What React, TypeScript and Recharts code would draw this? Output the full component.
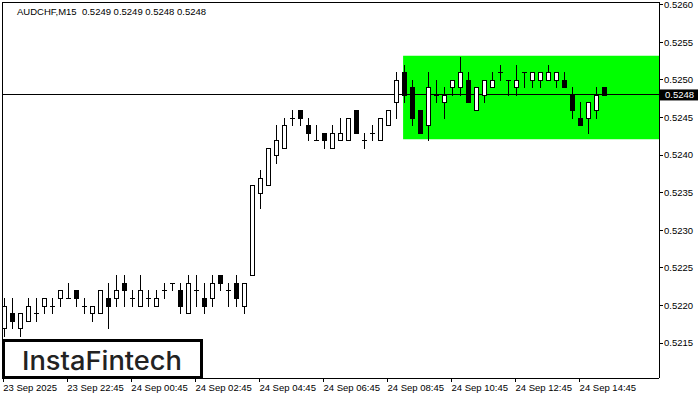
import React from 'react';
import { ComposedChart, Bar, XAxis, YAxis, ReferenceLine, ReferenceArea } from 'recharts';

const opens = [
  0.5217, 0.5219, 0.5217, 0.5218, 0.5219, 0.5220, 0.5220, 0.5221, 0.5221, 0.5222,
  0.5220, 0.5219, 0.5219, 0.5221, 0.5221, 0.5223, 0.5221, 0.5220, 0.5221, 0.5220,
  0.5222, 0.5223, 0.5222, 0.5219, 0.5222, 0.5221, 0.5221, 0.5224, 0.5222, 0.5223,
  0.5220, 0.5224, 0.5235, 0.5236, 0.5240, 0.5241, 0.5245, 0.5246, 0.5244, 0.5242,
  0.5243, 0.5241, 0.5242, 0.5242, 0.5246, 0.5242, 0.5243, 0.5242, 0.5244, 0.5247,
  0.5251, 0.5249, 0.5246, 0.5244, 0.5248, 0.5247, 0.5249, 0.5249, 0.5250, 0.5246,
  0.5248, 0.5249, 0.5251, 0.5250, 0.5249, 0.5251, 0.5250, 0.5250, 0.5250, 0.5250,
  0.5250, 0.5248, 0.5245, 0.5245, 0.5246, 0.5249,
];
const closes = [
  0.5220, 0.5218, 0.5219, 0.5220, 0.5219, 0.5221, 0.5220, 0.5222, 0.5221, 0.5221,
  0.5220, 0.5220, 0.5222, 0.5220, 0.5222, 0.5222, 0.5221, 0.5222, 0.5221, 0.5221,
  0.5222, 0.5223, 0.5220, 0.5223, 0.5222, 0.5220, 0.5223, 0.5223, 0.5222, 0.5221,
  0.5223, 0.5236, 0.5237, 0.5241, 0.5242, 0.5244, 0.5245, 0.5245, 0.5243, 0.5242,
  0.5242, 0.5243, 0.5243, 0.5245, 0.5243, 0.5242, 0.5243, 0.5245, 0.5246, 0.5250,
  0.5248, 0.5245, 0.5243, 0.5249, 0.5248, 0.5248, 0.5250, 0.5251, 0.5247, 0.5249,
  0.5250, 0.5250, 0.5251, 0.5250, 0.5250, 0.5251, 0.5251, 0.5251, 0.5251, 0.5251,
  0.5249, 0.5246, 0.5244, 0.5247, 0.5248, 0.5248,
];
const highs = [
  0.5221, 0.5221, 0.5219, 0.5221, 0.5221, 0.5221, 0.5221, 0.5222, 0.5223, 0.5222,
  0.5221, 0.5220, 0.5222, 0.5223, 0.5224, 0.5224, 0.5222, 0.5224, 0.5222, 0.5222,
  0.5223, 0.5223, 0.5223, 0.5224, 0.5224, 0.5223, 0.5224, 0.5224, 0.5223, 0.5224,
  0.5223, 0.5236, 0.5238, 0.5241, 0.5244, 0.5245, 0.5246, 0.5246, 0.5245, 0.5244,
  0.5243, 0.5244, 0.5245, 0.5245, 0.5246, 0.5243, 0.5244, 0.5245, 0.5246, 0.5251,
  0.5252, 0.5250, 0.5246, 0.5251, 0.5250, 0.5249, 0.5250, 0.5253, 0.5251, 0.5249,
  0.5250, 0.5251, 0.5252, 0.5250, 0.5252, 0.5251, 0.5251, 0.5251, 0.5252, 0.5251,
  0.5251, 0.5249, 0.5247, 0.5247, 0.5249, 0.5249,
];
const lows = [
  0.5216, 0.5217, 0.5216, 0.5218, 0.5218, 0.5219, 0.5219, 0.5220, 0.5221, 0.5220,
  0.5219, 0.5218, 0.5219, 0.5217, 0.5220, 0.5220, 0.5220, 0.5220, 0.5220, 0.5220,
  0.5221, 0.5222, 0.5219, 0.5219, 0.5220, 0.5219, 0.5220, 0.5222, 0.5220, 0.5220,
  0.5219, 0.5224, 0.5233, 0.5236, 0.5239, 0.5241, 0.5244, 0.5244, 0.5242, 0.5242,
  0.5241, 0.5241, 0.5242, 0.5242, 0.5243, 0.5241, 0.5242, 0.5242, 0.5244, 0.5245,
  0.5247, 0.5244, 0.5243, 0.5242, 0.5247, 0.5245, 0.5248, 0.5248, 0.5247, 0.5246,
  0.5247, 0.5249, 0.5250, 0.5248, 0.5248, 0.5249, 0.5249, 0.5249, 0.5250, 0.5249,
  0.5249, 0.5245, 0.5244, 0.5243, 0.5245, 0.5248,
];

const xTickIndex = [0, 8, 16, 24, 32, 40, 48, 56, 64, 72];
const xTickLabels = [
  '23 Sep 2025', '23 Sep 22:45', '24 Sep 00:45', '24 Sep 02:45', '24 Sep 04:45',
  '24 Sep 06:45', '24 Sep 08:45', '24 Sep 10:45', '24 Sep 12:45', '24 Sep 14:45',
];
const yTicks = [0.5215, 0.522, 0.5225, 0.523, 0.5235, 0.524, 0.5245, 0.525, 0.5255, 0.526];

const titleText = 'AUDCHF,M15  0.5249 0.5249 0.5248 0.5248';
const currentPrice = 0.5248;
const rectStartIndex = 49.95;
const rectTop = 0.52532;
const rectBottom = 0.52421;
const xDomain: [number, number] = [-0.16, 81.92];
const yDomain: [number, number] = [0.521036, 0.526036];

const data = opens.map((o, i) => ({
  i,
  open: o,
  high: highs[i],
  low: lows[i],
  close: closes[i],
  range: [lows[i], highs[i]],
}));

const FONT = 'Liberation Sans, Arial, sans-serif';

function Candle(props: any) {
  const { x, y, width, height } = props;
  const p = props.payload || props;
  if (x == null || y == null) return null;
  const top = Math.min(y, y + height);
  const bot = Math.max(y, y + height);
  const span = p.high - p.low;
  const py = (v: number) => (span > 0 ? top + ((p.high - v) / span) * (bot - top) : top);
  const cx = Math.round(x + width / 2);
  const yH = Math.round(top);
  const yL = Math.round(bot);
  const yO = Math.round(py(p.open));
  const yC = Math.round(py(p.close));
  const bTop = Math.min(yO, yC);
  const bBot = Math.max(yO, yC);
  let body;
  if (yO === yC) {
    body = <line x1={cx - 2} x2={cx + 3} y1={yO + 0.5} y2={yO + 0.5} stroke="#000" strokeWidth={1} />;
  } else if (p.close > p.open) {
    body = (
      <rect x={cx - 1.5} y={bTop + 0.5} width={4} height={bBot - bTop} fill="#fff" stroke="#000" strokeWidth={1} />
    );
  } else {
    body = <rect x={cx - 2} y={bTop} width={5} height={bBot - bTop + 1} fill="#000" />;
  }
  return (
    <g shapeRendering="crispEdges">
      <line x1={cx + 0.5} x2={cx + 0.5} y1={yH} y2={yL + 1} stroke="#000" strokeWidth={1} />
      {body}
    </g>
  );
}

function XTick(props: any) {
  const { x, y, payload } = props;
  const idx = xTickIndex.indexOf(payload.value);
  return (
    <text x={x} y={y} dy="0.71em" fill="#000" fontSize={9.5} fontFamily={FONT} textAnchor="start">
      {idx >= 0 ? xTickLabels[idx] : ''}
    </text>
  );
}

function PriceTag(props: any) {
  const vb = props.viewBox || {};
  const ly = vb.y;
  const lx = (vb.x || 0) + (vb.width || 0);
  if (ly == null) return null;
  return (
    <g>
      <rect x={lx + 1} y={ly - 5.5} width={38} height={11} fill="#000" />
      <text x={lx + 6} y={ly + 3.5} fill="#fff" fontSize={9.5} fontFamily={FONT}>
        {currentPrice.toFixed(4)}
      </text>
    </g>
  );
}

export default function App() {
  return (
    <div style={{ position: 'absolute', left: 0, top: 0, width: 700, height: 400, background: '#fff' }}>
      <ComposedChart
        width={700}
        height={400}
        data={data}
        margin={{ top: 2, left: 2, right: 0, bottom: 0 }}
      >
        <XAxis
          dataKey="i"
          type="number"
          domain={xDomain}
          allowDataOverflow
          ticks={xTickIndex}
          interval={0}
          height={22}
          tickSize={4}
          tickMargin={2}
          tick={<XTick />}
          axisLine={{ stroke: '#000', shapeRendering: 'crispEdges' }}
          tickLine={{ stroke: '#000', shapeRendering: 'crispEdges' }}
        />
        <YAxis
          orientation="right"
          type="number"
          domain={yDomain}
          allowDataOverflow
          ticks={yTicks}
          interval={0}
          width={41}
          tickSize={4}
          tickMargin={1}
          tickFormatter={(v: number) => v.toFixed(4)}
          tick={{ fill: '#000', fontSize: 9.5, fontFamily: FONT }}
          axisLine={{ stroke: '#000', shapeRendering: 'crispEdges' }}
          tickLine={{ stroke: '#000', shapeRendering: 'crispEdges' }}
        />
        <ReferenceArea
          x1={rectStartIndex}
          x2={xDomain[1]}
          y1={rectBottom}
          y2={rectTop}
          fill="#00ff00"
          fillOpacity={1}
          stroke="none"
          ifOverflow="hidden"
          zIndex={50}
        />
        <ReferenceLine
          y={currentPrice}
          stroke="#000"
          strokeWidth={1}
          shapeRendering="crispEdges"
          zIndex={250}
          label={{ content: (p: any) => <PriceTag {...p} /> }}
        />
        <Bar dataKey="range" barSize={5} isAnimationActive={false} shape={<Candle />} zIndex={300} />
      </ComposedChart>
      <div
        style={{
          position: 'absolute',
          left: 2,
          top: 2,
          width: 657,
          height: 376,
          borderTop: '1px solid #000',
          borderLeft: '1px solid #000',
          boxSizing: 'border-box',
          pointerEvents: 'none',
        }}
      />
      <svg
        width={700}
        height={400}
        style={{ position: 'absolute', left: 0, top: 0, pointerEvents: 'none' }}
      >
        <text x={17} y={15} fontSize={9.5} fontFamily={FONT} fill="#000" xmlSpace="preserve">
          {titleText}
        </text>
        <rect x={3.5} y={340.5} width={198} height={37} fill="#fff" stroke="#000" strokeWidth={3} />
        <text
          x={22}
          y={370}
          fontSize={26}
          fontFamily="Inter, sans-serif"
          fontWeight={500}
          fill="#222"
          textLength={160}
          lengthAdjust="spacingAndGlyphs"
        >
          InstaFintech
        </text>
      </svg>
    </div>
  );
}
